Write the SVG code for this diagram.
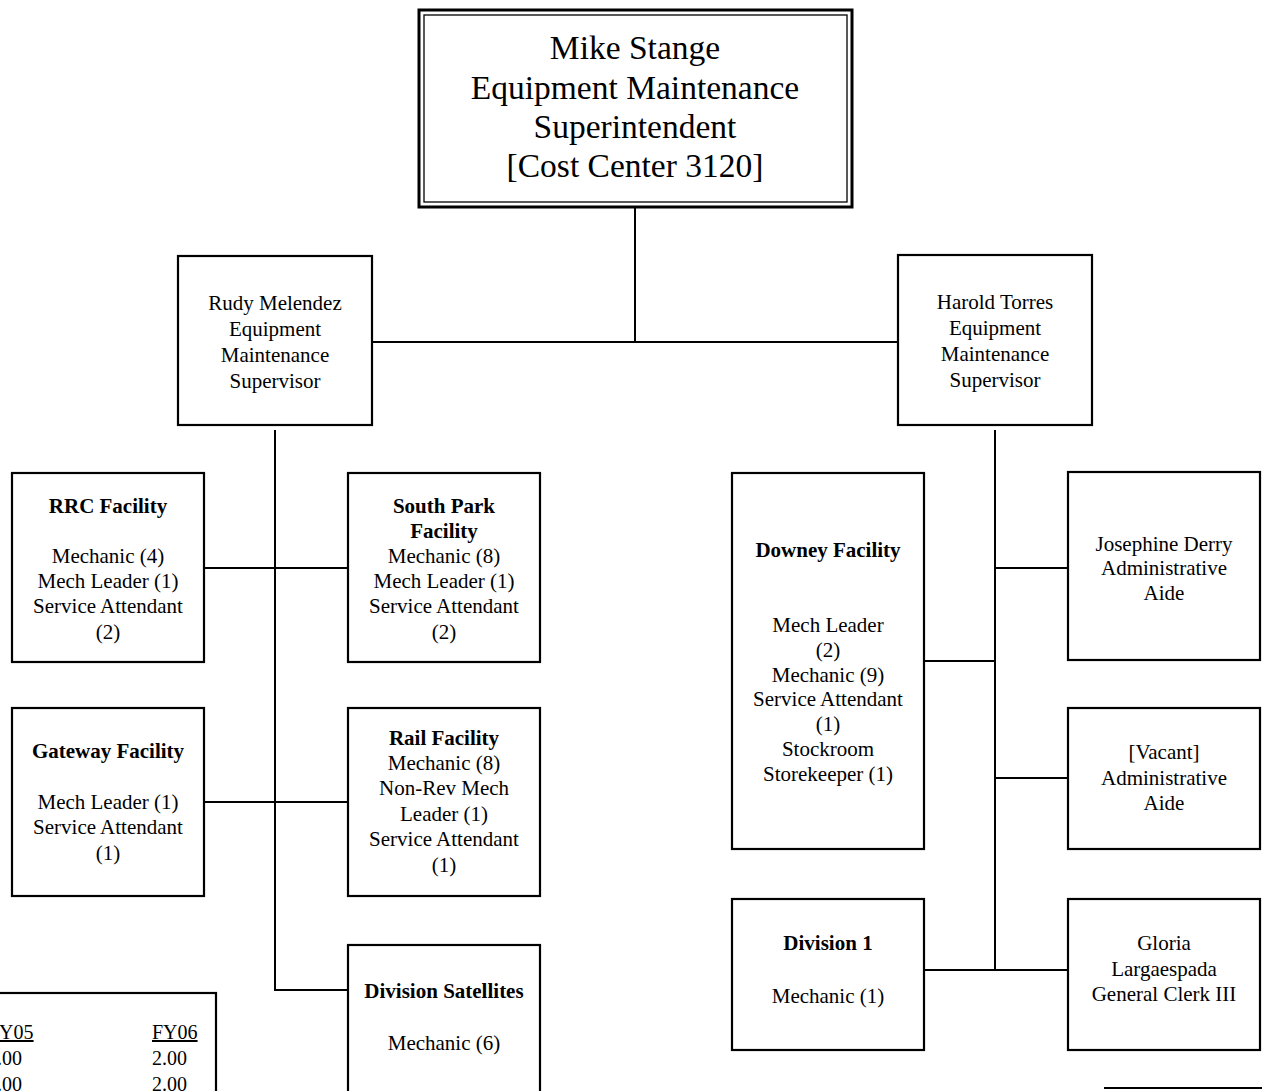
<svg xmlns="http://www.w3.org/2000/svg" width="1262" height="1091" viewBox="0 0 1262 1091">
<style>
  .box { fill: #fff; stroke: #000; stroke-width: 2.2; }
  .ln { stroke: #000; stroke-width: 2; fill: none; }
  text { font-family: "Liberation Serif", "Times New Roman", serif; font-size: 21px; fill: #000; text-anchor: middle; }
  .b { font-weight: bold; }
  .big { font-size: 33.5px; }
  .lg { font-size: 20px; text-anchor: start; }
</style>
<rect width="1262" height="1091" fill="#fff"/>
<g id="connectors">
  <line class="ln" x1="635" y1="207" x2="635" y2="342"/>
  <line class="ln" x1="372" y1="342" x2="898" y2="342"/>
  <polyline class="ln" points="275,430 275,990 348,990"/>
  <line class="ln" x1="204" y1="568" x2="348" y2="568"/>
  <line class="ln" x1="204" y1="802" x2="348" y2="802"/>
  <line class="ln" x1="995" y1="430" x2="995" y2="970"/>
  <line class="ln" x1="924" y1="661" x2="995" y2="661"/>
  <line class="ln" x1="995" y1="568" x2="1068" y2="568"/>
  <line class="ln" x1="995" y1="778" x2="1068" y2="778"/>
  <line class="ln" x1="924" y1="970" x2="1068" y2="970"/>
  <line class="ln" x1="1104" y1="1088" x2="1262" y2="1088"/>
</g>
<g id="n-top">
  <rect x="419" y="10" width="433" height="197" fill="#fff" stroke="#000" stroke-width="3"/>
  <rect x="424" y="15" width="423" height="187" fill="none" stroke="#000" stroke-width="1.3"/>
  <text class="big" x="635" y="59">Mike Stange</text>
  <text class="big" x="635" y="99">Equipment Maintenance</text>
  <text class="big" x="635" y="138">Superintendent</text>
  <text class="big" x="635" y="177">[Cost Center 3120]</text>
</g>
<g id="n-rudy">
  <rect class="box" x="178" y="256" width="194" height="169"/>
  <text x="275" y="310">Rudy Melendez</text>
  <text x="275" y="336">Equipment</text>
  <text x="275" y="362">Maintenance</text>
  <text x="275" y="388">Supervisor</text>
</g>
<g id="n-harold">
  <rect class="box" x="898" y="255" width="194" height="170"/>
  <text x="995" y="309">Harold Torres</text>
  <text x="995" y="335">Equipment</text>
  <text x="995" y="361">Maintenance</text>
  <text x="995" y="387">Supervisor</text>
</g>
<g id="n-rrc">
  <rect class="box" x="12" y="473" width="192" height="189"/>
  <text class="b" x="108" y="513">RRC Facility</text>
  <text x="108" y="563">Mechanic (4)</text>
  <text x="108" y="588">Mech Leader (1)</text>
  <text x="108" y="613">Service Attendant</text>
  <text x="108" y="639">(2)</text>
</g>
<g id="n-southpark">
  <rect class="box" x="348" y="473" width="192" height="189"/>
  <text class="b" x="444" y="513">South Park</text>
  <text class="b" x="444" y="538">Facility</text>
  <text x="444" y="563">Mechanic (8)</text>
  <text x="444" y="588">Mech Leader (1)</text>
  <text x="444" y="613">Service Attendant</text>
  <text x="444" y="639">(2)</text>
</g>
<g id="n-gateway">
  <rect class="box" x="12" y="708" width="192" height="188"/>
  <text class="b" x="108" y="758">Gateway Facility</text>
  <text x="108" y="809">Mech Leader (1)</text>
  <text x="108" y="834">Service Attendant</text>
  <text x="108" y="860">(1)</text>
</g>
<g id="n-rail">
  <rect class="box" x="348" y="708" width="192" height="188"/>
  <text class="b" x="444" y="745">Rail Facility</text>
  <text x="444" y="770">Mechanic (8)</text>
  <text x="444" y="795">Non-Rev Mech</text>
  <text x="444" y="821">Leader (1)</text>
  <text x="444" y="846">Service Attendant</text>
  <text x="444" y="872">(1)</text>
</g>
<g id="n-divsat">
  <rect class="box" x="348" y="945" width="192" height="160"/>
  <text class="b" x="444" y="998">Division Satellites</text>
  <text x="444" y="1050">Mechanic (6)</text>
</g>
<g id="n-legend">
  <rect class="box" x="-20" y="993" width="236" height="120"/>
  <text class="lg" x="-12" y="1039" text-decoration="underline">FY05</text>
  <text class="lg" x="152" y="1039" text-decoration="underline">FY06</text>
  <text class="lg" x="-13" y="1065">2.00</text>
  <text class="lg" x="152" y="1065">2.00</text>
  <text class="lg" x="-13" y="1091">2.00</text>
  <text class="lg" x="152" y="1091">2.00</text>
</g>
<g id="n-downey">
  <rect class="box" x="732" y="473" width="192" height="376"/>
  <text class="b" x="828" y="557">Downey Facility</text>
  <text x="828" y="632">Mech Leader</text>
  <text x="828" y="657">(2)</text>
  <text x="828" y="682">Mechanic (9)</text>
  <text x="828" y="706">Service Attendant</text>
  <text x="828" y="731">(1)</text>
  <text x="828" y="756">Stockroom</text>
  <text x="828" y="781">Storekeeper (1)</text>
</g>
<g id="n-josephine">
  <rect class="box" x="1068" y="472" width="192" height="188"/>
  <text x="1164" y="551">Josephine Derry</text>
  <text x="1164" y="575">Administrative</text>
  <text x="1164" y="600">Aide</text>
</g>
<g id="n-vacant">
  <rect class="box" x="1068" y="708" width="192" height="141"/>
  <text x="1164" y="759">[Vacant]</text>
  <text x="1164" y="785">Administrative</text>
  <text x="1164" y="810">Aide</text>
</g>
<g id="n-div1">
  <rect class="box" x="732" y="899" width="192" height="151"/>
  <text class="b" x="828" y="950">Division 1</text>
  <text x="828" y="1003">Mechanic (1)</text>
</g>
<g id="n-gloria">
  <rect class="box" x="1068" y="899" width="192" height="151"/>
  <text x="1164" y="950">Gloria</text>
  <text x="1164" y="976">Largaespada</text>
  <text x="1164" y="1001">General Clerk III</text>
</g>
</svg>
